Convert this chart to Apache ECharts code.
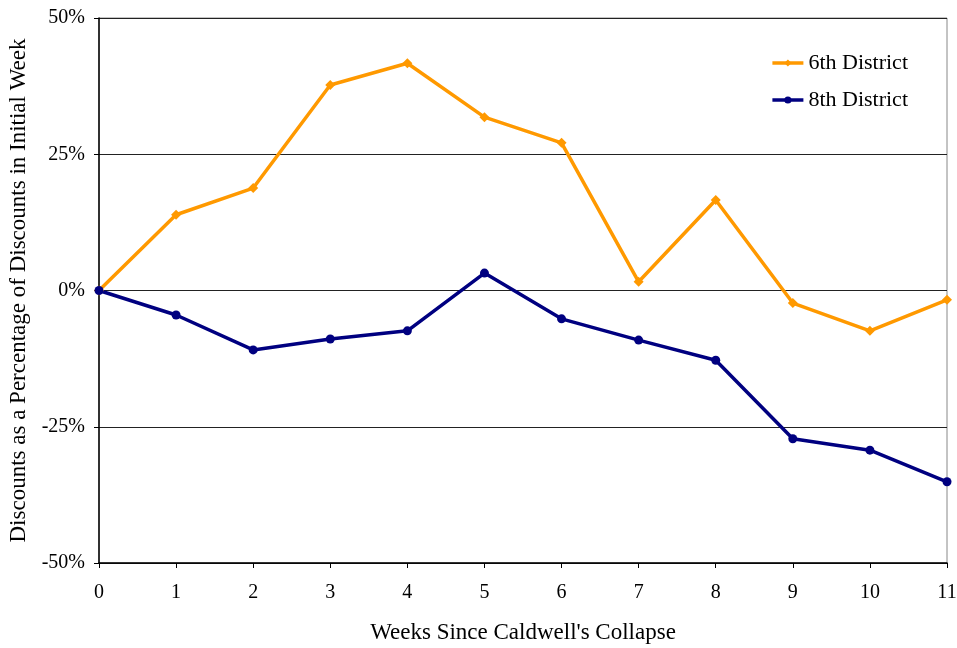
<!DOCTYPE html>
<html><head><meta charset="utf-8">
<script src="https://cdn.jsdelivr.net/npm/echarts@6/dist/echarts.min.js"></script>
<style>html,body{margin:0;padding:0;background:#fff}#c{width:957px;height:648px}</style>
</head><body><div id="c"></div>
<script>
const weeks = ['0','1','2','3','4','5','6','7','8','9','10','11'];
const sixth = [0, 13.9, 18.8, 37.7, 41.7, 31.8, 27.1, 1.6, 16.6, -2.3, -7.4, -1.7];
const eighth = [0, -4.5, -10.9, -8.9, -7.4, 3.2, -5.2, -9.1, -12.8, -27.2, -29.3, -35.1];
const yTicks = [-50, -25, 0, 25, 50];
const font = 'Liberation Serif';
const chart = echarts.init(document.getElementById('c'));
chart.setOption({
  animation: false,
  textStyle: {fontFamily: font},
  grid: {left: 99, right: 10, top: 18, bottom: 85, containLabel: false, outerBoundsMode: 'none',
    show: true, borderColor: '#888', borderWidth: 1},
  legend: {
    right: 44, top: 47, orient: 'vertical', itemGap: 15, itemWidth: 31, itemHeight: 9,
    textStyle: {fontFamily: font, fontSize: 22, color: '#000'},
    data: [
      {name: '6th District', lineStyle: {width: 3.5}},
      {name: '8th District', lineStyle: {width: 3.5}}
    ]
  },
  xAxis: {
    type: 'category', data: weeks, boundaryGap: false,
    name: "Weeks Since Caldwell's Collapse", nameLocation: 'middle', nameGap: 58,
    nameTextStyle: {fontFamily: font, fontSize: 23, color: '#000'},
    axisLine: {onZero: false, lineStyle: {color: '#000', width: 1.5}},
    axisTick: {show: true, length: 5, lineStyle: {color: '#000'}},
    axisLabel: {fontFamily: font, fontSize: 20, color: '#000', margin: 20},
    splitLine: {show: false}
  },
  yAxis: {
    type: 'value', min: -50, max: 50, interval: 25,
    name: 'Discounts as a Percentage of Discounts in Initial Week', nameLocation: 'middle', nameGap: 68,
    nameTextStyle: {fontFamily: font, fontSize: 23, color: '#000'},
    axisLine: {show: true, lineStyle: {color: '#000', width: 1.5}},
    axisTick: {show: true, length: 5, lineStyle: {color: '#000'}},
    axisLabel: {fontFamily: font, fontSize: 20, color: '#000', margin: 14,
      formatter: v => yTicks.includes(v) ? v + '%' : ''},
    splitLine: {show: true, lineStyle: {color: '#222', width: 1}}
  },
  series: [
    {name: '6th District', type: 'line', data: sixth, symbol: 'diamond', symbolSize: 10,
      itemStyle: {color: '#FF9900'}, lineStyle: {color: '#FF9900', width: 3.5}},
    {name: '8th District', type: 'line', data: eighth, symbol: 'circle', symbolSize: 9,
      itemStyle: {color: '#000080'}, lineStyle: {color: '#000080', width: 3.5}}
  ]
});
</script></body></html>
